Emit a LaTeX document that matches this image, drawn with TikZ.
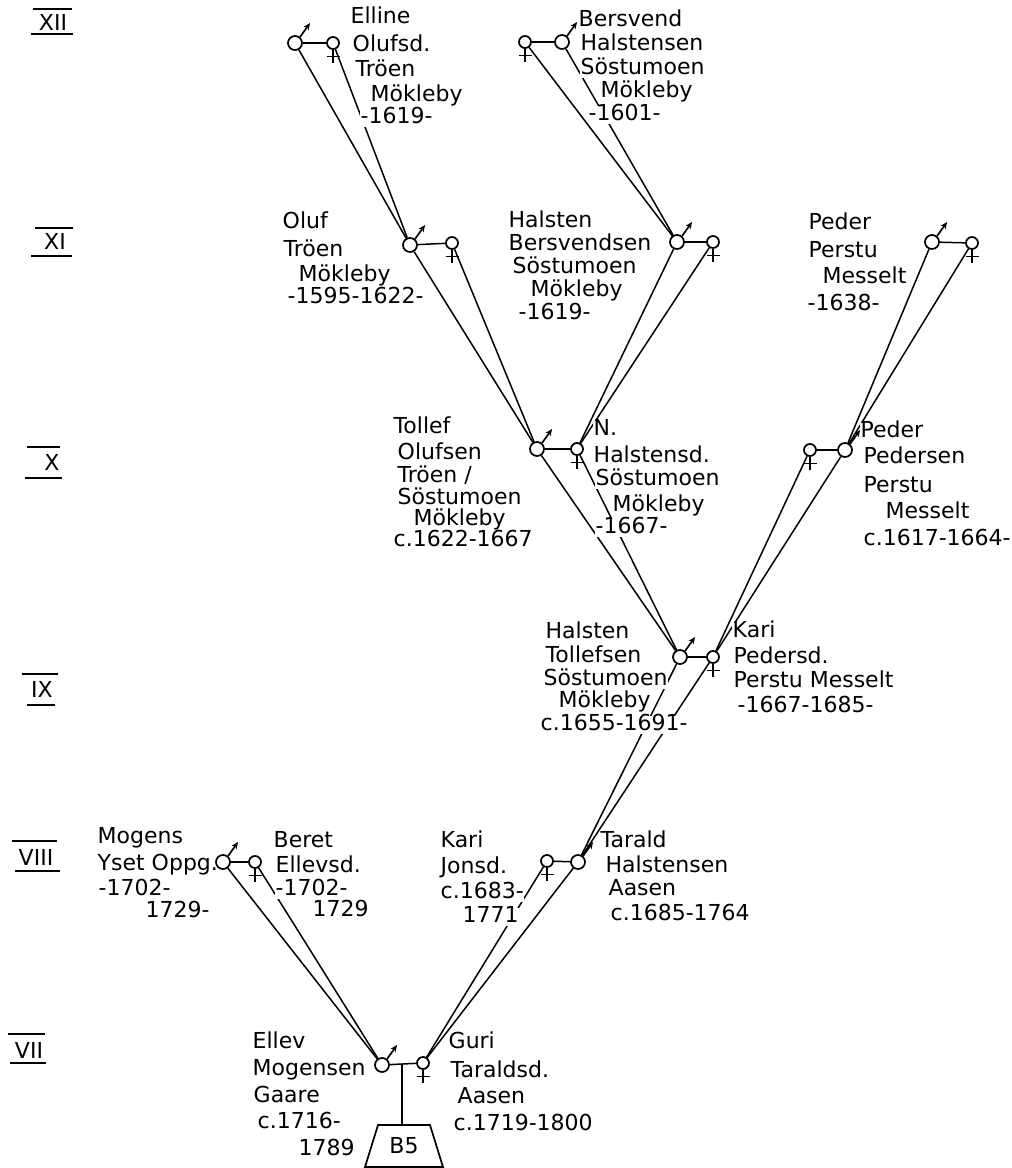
\documentclass[tikz,border=0pt]{standalone}
\usepackage{fontspec}
\setmainfont{DejaVu Sans}
\usetikzlibrary{arrows.meta}
\pgfdeclarelayer{bg}
\pgfdeclarelayer{lines}
\pgfdeclarelayer{texts}
\pgfsetlayers{bg,lines,texts,main}
\newcommand\femcross[1]{\draw[sym] (#1.south) -- ++(0,13) (#1.south) ++(-6.5,6.5) -- ++(13,0);}
\newcommand\malearrow[1]{\draw[tip] (#1.50) -- ++(10,-14);}
\newcommand\lblline[4]{\node[lbl] (#1) at (#2,#3) {#4};}
\begin{document}
\begin{tikzpicture}[x=1pt,y=-1pt,
  sym/.style={line width=1.7pt},
  male/.style={circle,draw,line width=1.7pt,minimum size=14pt,inner sep=0pt,fill=white},
  fem/.style={circle,draw,line width=1.7pt,minimum size=12pt,inner sep=0pt,fill=white},
  link/.style={line width=1.5pt},
  lbl/.style={anchor=west,inner sep=0.5pt,fill=white,font=\fontsize{22}{26}\selectfont,text height=14pt,text depth=3pt},
  gen/.style={font=\fontsize{22}{26}\selectfont,inner sep=0pt},
  tip/.style={-{Stealth[length=7pt,width=6pt]},line width=1.7pt}
]
\begin{pgfonlayer}{bg}
\useasboundingbox[fill=white] (0,0) rectangle (1011,1168);
\end{pgfonlayer}

% ---------- generation numerals ----------
\node[gen] (g12) at (53,22) {XII};
\draw[sym] (33,9) -- (72,9) (31,34) -- (73,34);
\node[gen] (g11) at (55,241) {XI};
\draw[sym] (35,228) -- (73,228) (31,256) -- (72,256);
\node[gen] (g10) at (52,462) {X};
\draw[sym] (27,447) -- (60,447) (25,478) -- (62,478);
\node[gen] (g9) at (42,689) {IX};
\draw[sym] (22,674) -- (58,674) (27,705) -- (55,705);
\node[gen] (g8) at (36,857) {VIII};
\draw[sym] (12,841) -- (57,841) (15,871) -- (60,871);
\node[gen] (g7) at (29,1050) {VII};
\draw[sym] (8,1034) -- (45,1034) (10,1063) -- (46,1063);

% ---------- persons (circles) ----------
\node[male] (m12a) at (295,43) {};
\node[fem]  (f12a) at (333,43) {};
\node[fem]  (f12b) at (525,42) {};
\node[male] (m12b) at (562,42) {};
\node[male] (m11a) at (410,245) {};
\node[fem]  (f11a) at (452,243) {};
\node[male] (m11b) at (677,242) {};
\node[fem]  (f11b) at (713,242) {};
\node[male] (m11c) at (932,242) {};
\node[fem]  (f11c) at (972,243) {};
\node[male] (m10a) at (537,449) {};
\node[fem]  (f10a) at (577,449) {};
\node[fem]  (f10b) at (810,450) {};
\node[male] (m10b) at (845,450) {};
\node[male] (m9)   at (680,657) {};
\node[fem]  (f9)   at (713,657) {};
\node[male] (m8a)  at (223,862) {};
\node[fem]  (f8a)  at (255,862) {};
\node[fem]  (f8b)  at (547,861) {};
\node[male] (m8b)  at (578,862) {};
\node[male] (m7)   at (382,1065) {};
\node[fem]  (f7)   at (423,1063) {};

\foreach \m in {m12a,m12b,m11a,m11b,m11c,m10a,m10b,m9,m8a,m8b,m7} {\malearrow{\m}}
\foreach \f in {f12a,f12b,f11a,f11b,f11c,f10a,f10b,f9,f8a,f8b,f7} {\femcross{\f}}

% ---------- B5 box ----------
\coordinate (m7mid) at (402,1065);
\coordinate (b5top) at (402,1125);
\node[gen] (b5) at (404,1146) {B5};
\draw[sym] (378,1125) -- (430,1125) -- (443,1167) -- (365,1167) -- cycle;

% ---------- connectors ----------
\begin{pgfonlayer}{lines}
\draw[link] (m12a) -- (f12a);
\draw[link] (f12b) -- (m12b);
\draw[link] (m11a) -- (f11a);
\draw[link] (m11b) -- (f11b);
\draw[link] (m11c) -- (f11c);
\draw[link] (m10a) -- (f10a);
\draw[link] (f10b) -- (m10b);
\draw[link] (m9) -- (f9);
\draw[link] (m8a) -- (f8a);
\draw[link] (f8b) -- (m8b);
\draw[link] (m7) -- (f7);
\draw[link] (m7mid) -- (b5top);
\draw[link] (m12a) -- (m11a);
\draw[link] (f12a) -- (m11a);
\draw[link] (m12b) -- (m11b);
\draw[link] (f12b) -- (m11b);
\draw[link] (m11a) -- (m10a);
\draw[link] (f11a) -- (m10a);
\draw[link] (m11b) -- (f10a);
\draw[link] (f11b) -- (f10a);
\draw[link] (m11c) -- (m10b);
\draw[link] (f11c) -- (m10b);
\draw[link] (m10a) -- (m9);
\draw[link] (f10a) -- (m9);
\draw[link] (m10b) -- (f9);
\draw[link] (f10b) -- (f9);
\draw[link] (m9) -- (m8b);
\draw[link] (f9) -- (m8b);
\draw[link] (m8a) -- (m7);
\draw[link] (f8a) -- (m7);
\draw[link] (m8b) -- (f7);
\draw[link] (f8b) -- (f7);
\end{pgfonlayer}

% ---------- labels ----------
\begin{pgfonlayer}{texts}
% XII a
\lblline{ea1}{350}{18}{Elline}
\lblline{ea2}{352}{46}{Olufsd.}
\lblline{ea3}{355}{71}{Tröen}
\lblline{ea4}{370}{96}{Mökleby}
\lblline{ea5}{360}{118}{-1619-}
% XII b
\lblline{eb1}{578}{21}{Bersvend}
\lblline{eb2}{580}{45}{Halstensen}
\lblline{eb3}{580}{69}{Söstumoen}
\lblline{eb4}{600}{92}{Mökleby}
\lblline{eb5}{588}{115}{-1601-}
% XI a
\lblline{oa1}{282}{223}{Oluf}
\lblline{oa2}{283}{251}{Tröen}
\lblline{oa3}{298}{276}{Mökleby}
\lblline{oa4}{287}{298}{-1595-1622-}
% XI b
\lblline{ob1}{508}{222}{Halsten}
\lblline{ob2}{508}{245}{Bersvendsen}
\lblline{ob3}{512}{268}{Söstumoen}
\lblline{ob4}{530}{291}{Mökleby}
\lblline{ob5}{518}{314}{-1619-}
% XI c
\lblline{oc1}{808}{224}{Peder}
\lblline{oc2}{808}{252}{Perstu}
\lblline{oc3}{822}{278}{Messelt}
\lblline{oc4}{807}{305}{-1638-}
% X a
\lblline{ta1}{393}{428}{Tollef}
\lblline{ta2}{397}{454}{Olufsen}
\lblline{ta3}{397}{477}{Tröen /}
\lblline{ta4}{397}{499}{Söstumoen}
\lblline{ta5}{413}{520}{Mökleby}
\lblline{ta6}{393}{541}{c.1622-1667}
% X b
\lblline{na1}{593}{430}{N.}
\lblline{na2}{593}{457}{Halstensd.}
\lblline{na3}{595}{480}{Söstumoen}
\lblline{na4}{612}{506}{Mökleby}
\lblline{na5}{595}{528}{-1667-}
% X c
\lblline{pa1}{860}{432}{Peder}
\lblline{pa2}{863}{458}{Pedersen}
\lblline{pa3}{863}{487}{Perstu}
\lblline{pa4}{885}{513}{Messelt}
\lblline{pa5}{863}{540}{c.1617-1664-}
% IX
\lblline{ha1}{545}{633}{Halsten}
\lblline{ha2}{545}{657}{Tollefsen}
\lblline{ha3}{543}{680}{Söstumoen}
\lblline{ha4}{558}{702}{Mökleby}
\lblline{ha5}{540}{725}{c.1655-1691-}
\lblline{ka1}{732}{632}{Kari}
\lblline{ka2}{733}{658}{Pedersd.}
\lblline{ka3}{733}{682}{Perstu Messelt}
\lblline{ka4}{737}{707}{-1667-1685-}
% VIII a
\lblline{mo1}{97}{838}{Mogens}
\lblline{mo2}{97}{865}{Yset Oppg.}
\lblline{mo3}{98}{890}{-1702-}
\lblline{mo4}{145}{912}{1729-}
\lblline{be1}{273}{842}{Beret}
\lblline{be2}{275}{867}{Ellevsd.}
\lblline{be3}{275}{890}{-1702-}
\lblline{be4}{312}{911}{1729}
% VIII b
\lblline{kj1}{440}{842}{Kari}
\lblline{kj2}{440}{868}{Jonsd.}
\lblline{kj3}{440}{893}{c.1683-}
\lblline{kj4}{462}{917}{1771}
\lblline{tr1}{600}{842}{Tarald}
\lblline{tr2}{605}{867}{Halstensen}
\lblline{tr3}{608}{890}{Aasen}
\lblline{tr4}{610}{915}{c.1685-1764}
% VII
\lblline{el1}{252}{1043}{Ellev}
\lblline{el2}{252}{1070}{Mogensen}
\lblline{el3}{253}{1097}{Gaare}
\lblline{el4}{257}{1123}{c.1716-}
\lblline{el5}{298}{1150}{1789}
\lblline{gu1}{448}{1043}{Guri}
\lblline{gu2}{450}{1072}{Taraldsd.}
\lblline{gu3}{457}{1098}{Aasen}
\lblline{gu4}{453}{1125}{c.1719-1800}
\end{pgfonlayer}
\end{tikzpicture}
\end{document}
